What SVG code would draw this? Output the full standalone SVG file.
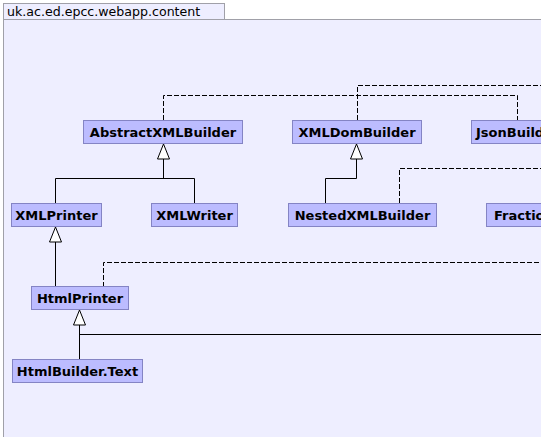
<svg xmlns="http://www.w3.org/2000/svg" width="541" height="437" viewBox="0 0 541 437">
<style>
.node rect{fill:#bcbcff;stroke:#8484c4;stroke-width:1}
.node text{font-family:"DejaVu Sans",sans-serif;font-weight:bold;font-size:13px;fill:#000}
.edge{fill:none;stroke:#000;stroke-width:1}
.dash{stroke-dasharray:5,2}
.tri{fill:#fff;stroke:#000;stroke-width:1}
</style>
<rect x="3.5" y="19.5" width="560" height="440" fill="#eeeeff" stroke="#a0a0a8"/>
<rect x="3.5" y="3.5" width="221" height="16" fill="#eeeeff" stroke="#a0a0a8"/>
<text x="7" y="16" font-family="DejaVu Sans,sans-serif" font-size="12.6px" fill="#000">uk.ac.ed.epcc.webapp.content</text>
<g id="connectors">
<path class="edge dash" d="M163.5,120 V95.5 H517.5 V120"/>
<path class="edge dash" d="M357.5,120 V85.5 H545"/>
<path class="edge dash" d="M399.5,203 V168.5 H545"/>
<path class="edge dash" d="M103.5,287 V262.5 H545"/>
<path class="edge" d="M55.5,203 V178.5 H194.5 V203 M163.5,159 V178.5"/>
<path class="edge" d="M356.5,159 V178.5 H325.5 V203"/>
<path class="edge" d="M55.5,242 V287"/>
<path class="edge" d="M79.5,325 V359 M79.5,334.5 H545"/>
<polygon class="tri" points="163.5,144 157.5,159 169.5,159"/>
<polygon class="tri" points="356.5,144 350.5,159 362.5,159"/>
<polygon class="tri" points="55.5,227 49.5,242 61.5,242"/>
<polygon class="tri" points="79.5,310 73.5,325 85.5,325"/>
</g>
<g id="AbstractXMLBuilder" class="node"><rect x="83.5" y="120.5" width="159" height="23"/><text x="163" y="137" text-anchor="middle">AbstractXMLBuilder</text></g>
<g id="XMLDomBuilder" class="node"><rect x="292.5" y="120.5" width="129" height="23"/><text x="357" y="137" text-anchor="middle">XMLDomBuilder</text></g>
<g id="JsonBuilder" class="node"><rect x="471.5" y="120.5" width="100" height="23"/><text x="476" y="137">JsonBuilder</text></g>
<g id="XMLPrinter" class="node"><rect x="11.5" y="203.5" width="90" height="23"/><text x="56.5" y="220" text-anchor="middle">XMLPrinter</text></g>
<g id="XMLWriter" class="node"><rect x="151.5" y="203.5" width="86" height="23"/><text x="194.5" y="220" text-anchor="middle">XMLWriter</text></g>
<g id="NestedXMLBuilder" class="node"><rect x="288.5" y="203.5" width="148" height="23"/><text x="362.5" y="220" text-anchor="middle">NestedXMLBuilder</text></g>
<g id="Fraction" class="node"><rect x="486.5" y="203.5" width="100" height="23"/><text x="494" y="220">Fraction</text></g>
<g id="HtmlPrinter" class="node"><rect x="31.5" y="286.5" width="97" height="23"/><text x="80" y="303" text-anchor="middle">HtmlPrinter</text></g>
<g id="HtmlBuilder.Text" class="node"><rect x="12.5" y="359.5" width="130" height="23"/><text x="77.5" y="376" text-anchor="middle">HtmlBuilder.Text</text></g>
</svg>
